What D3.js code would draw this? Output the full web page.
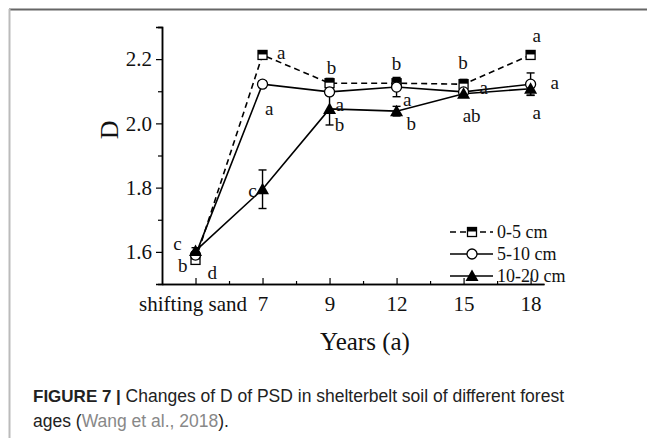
<!DOCTYPE html>
<html><head><meta charset="utf-8">
<script src="https://cdn.jsdelivr.net/npm/d3@7"></script>
<style>body{margin:0;background:#fff}svg{display:block}</style>
</head><body>
<script>
const categories = ["shifting sand","7","9","12","15","18"];
const d05   = [1.575, 2.213, 2.125, 2.125, 2.122, 2.213];
const d510  = [1.590, 2.122, 2.098, 2.113, 2.098, 2.122];
const d1020 = [1.603, 1.795, 2.045, 2.038, 2.092, 2.108];
const err05   = [0.010, 0.010, 0.015, 0.015, 0.015, 0.010];
const err510  = [0.010, 0.010, 0.010, 0.030, 0.010, 0.035];
const err1020 = [0.010, 0.060, 0.050, 0.015, 0.010, 0.020];
const yTicks = [1.6, 1.8, 2.0, 2.2];
const yMinor = [1.7, 1.9, 2.1, 2.3];
const seriesNames = ["0-5 cm", "5-10 cm", "10-20 cm"];
// significance letters: [text, x position (category units), D value]
const letters = [
  ["a",2.28,2.222],["a",2.10,2.048],["c",1.85,1.793],
  ["c",0.73,1.628],["b",0.81,1.559],["d",1.25,1.537],
  ["b",3.03,2.175],["a",3.15,2.060],["b",3.15,1.996],
  ["b",4.00,2.188],["a",4.16,2.076],["b",4.22,2.001],
  ["b",4.99,2.191],["a",5.30,2.113],["ab",5.12,2.026],
  ["a",6.09,2.275],["a",6.36,2.129],["a",6.09,2.035]
];

const W = 647, H = 438;
const svg = d3.select("body").append("svg").attr("width", W).attr("height", H);

// frame lines
svg.append("line").attr("x1",9).attr("x2",W).attr("y1",9.5).attr("y2",9.5).attr("stroke","#666").attr("stroke-width",2);
svg.append("line").attr("x1",9.5).attr("x2",9.5).attr("y1",9).attr("y2",H).attr("stroke","#bbb").attr("stroke-width",2);

const x = d3.scaleLinear().domain([0.5, 6.2]).range([162, 544]);
const y = d3.scaleLinear().domain([1.5, 2.3]).range([284, 27]);
const serif = "Liberation Serif, Times New Roman, serif";

// axes
svg.append("g").attr("transform","translate(162,0)")
  .call(d3.axisLeft(y).tickValues(yTicks).tickFormat(d3.format(".1f")).tickSize(6).tickPadding(4));
svg.append("g").attr("transform","translate(162,0)")
  .call(d3.axisLeft(y).tickValues(yMinor).tickFormat("").tickSize(4));
const xAxis = svg.append("g").attr("transform","translate(0,284)")
  .call(d3.axisBottom(x).tickValues(d3.range(1,7)).tickFormat(i => categories[i-1]).tickSizeInner(-6).tickSizeOuter(0).tickPadding(12));
svg.append("g").attr("transform","translate(0,284)")
  .call(d3.axisBottom(x).tickValues(d3.range(1.5,6,1)).tickFormat("").tickSizeInner(-3).tickSizeOuter(0));
svg.selectAll(".domain").attr("stroke","#000").attr("stroke-width",1.5);
svg.selectAll(".tick line").attr("stroke","#000").attr("stroke-width",1.2);
svg.selectAll(".tick text").attr("font-family",serif).attr("font-size",21).attr("fill","#111");
xAxis.selectAll(".tick text").filter((d)=>d===1).attr("dx",-3);

// axis titles
svg.append("text").attr("x",365).attr("y",350).attr("text-anchor","middle")
  .attr("font-family",serif).attr("font-size",25).attr("fill","#111").text("Years (a)");
svg.append("text").attr("transform",`translate(118,${y(1.98)}) rotate(-90)`).attr("text-anchor","middle")
  .attr("font-family",serif).attr("font-size",26).attr("fill","#111").text("D");

const series = [
  {vals:d05, err:err05, dash:"6,4", mk:"square"},
  {vals:d510, err:err510, dash:null, mk:"circle"},
  {vals:d1020, err:err1020, dash:null, mk:"triangle"}
];
const line = d3.line().x((d,i)=>x(i+1)).y(d=>y(d));
series.forEach(s=>{
  svg.append("path").datum(s.vals).attr("d",line).attr("fill","none")
    .attr("stroke","#000").attr("stroke-width",1.6).attr("stroke-dasharray",s.dash);
});
// error bars
series.forEach(s=>{
  const g = svg.append("g").attr("stroke","#000").attr("stroke-width",1.4);
  s.vals.forEach((v,i)=>{
    const cx = x(i+1), y1 = y(v+s.err[i]), y2 = y(v-s.err[i]);
    g.append("line").attr("x1",cx).attr("x2",cx).attr("y1",y1).attr("y2",y2);
    g.append("line").attr("x1",cx-4).attr("x2",cx+4).attr("y1",y1).attr("y2",y1);
    g.append("line").attr("x1",cx-4).attr("x2",cx+4).attr("y1",y2).attr("y2",y2);
  });
});
function marker(g, type, cx, cy){
  if(type==="square"){
    g.append("rect").attr("x",cx-4.5).attr("y",cy-4.5).attr("width",9).attr("height",9)
      .attr("fill","#fff").attr("stroke","#000").attr("stroke-width",1.3);
    g.append("rect").attr("x",cx-4.5).attr("y",cy-4.5).attr("width",9).attr("height",4).attr("fill","#000");
  } else if(type==="circle"){
    g.append("circle").attr("cx",cx).attr("cy",cy).attr("r",5).attr("fill","#fff")
      .attr("stroke","#000").attr("stroke-width",1.3);
  } else {
    g.append("path").attr("d",`M${cx},${cy-6.5}L${cx+6.5},${cy+5}L${cx-6.5},${cy+5}Z`).attr("fill","#000");
  }
}
series.forEach(s=>{
  const g = svg.append("g");
  s.vals.forEach((v,i)=>marker(g, s.mk, x(i+1), y(v)));
});

// letters
svg.append("g").selectAll("text").data(letters).join("text")
  .attr("x",d=>x(d[1])).attr("y",d=>y(d[2])).attr("dy","0.35em").attr("text-anchor","middle")
  .attr("font-family",serif).attr("font-size",19).attr("fill","#111").text(d=>d[0]);

// legend
const lg = svg.append("g");
const legY = [232, 254, 276];
series.forEach((s,k)=>{
  lg.append("line").attr("x1",450).attr("x2",493).attr("y1",legY[k]).attr("y2",legY[k])
    .attr("stroke","#000").attr("stroke-width",1.6).attr("stroke-dasharray",s.dash);
  marker(lg, s.mk, 472, legY[k]);
  lg.append("text").attr("x",497).attr("y",legY[k]).attr("dy","0.35em")
    .attr("font-family",serif).attr("font-size",18).attr("fill","#111").text(seriesNames[k]);
});

// caption
const capFont = "Liberation Sans Narrow, Arial Narrow, Liberation Sans, sans-serif";
const cap = svg.append("text").attr("x",33).attr("y",402)
  .attr("font-family",capFont).attr("font-size",17.5).attr("fill","#222");
cap.append("tspan").attr("font-weight","bold").attr("font-family","Liberation Sans, Arial, sans-serif").attr("font-size",17).text("FIGURE 7 | ");
cap.append("tspan").text("Changes of D of PSD in shelterbelt soil of different forest");
const cap2 = svg.append("text").attr("x",33).attr("y",427)
  .attr("font-family",capFont).attr("font-size",17.5).attr("fill","#222");
cap2.append("tspan").text("ages (");
cap2.append("tspan").attr("fill","#888").text("Wang et al., 2018");
cap2.append("tspan").text(").");
</script>
</body></html>
